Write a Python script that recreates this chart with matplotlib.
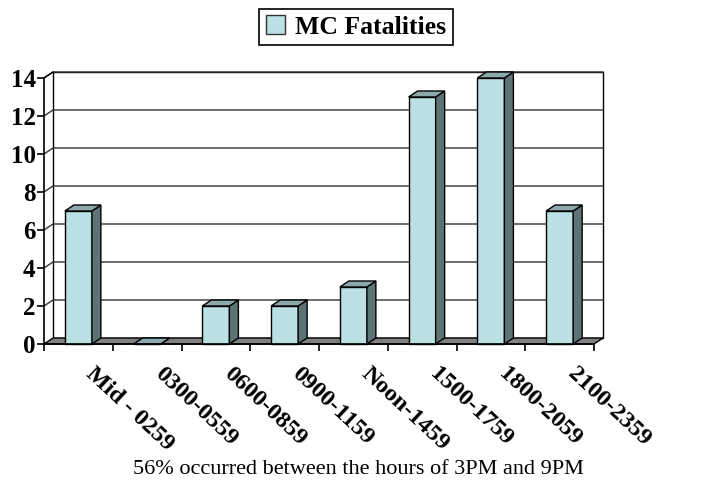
#!/usr/bin/env python3
"""MC fatalities by time of day, Excel-style 3D column chart."""
import matplotlib
matplotlib.use("Agg")
import matplotlib.pyplot as plt
from matplotlib.patches import Patch, Polygon

categories = ["Mid - 0259", "0300-0559", "0600-0859", "0900-1159",
              "Noon-1459", "1500-1759", "1800-2059", "2100-2359"]
fatalities = [7, 0, 2, 2, 3, 13, 14, 7]
y_ticks = [0, 2, 4, 6, 8, 10, 12, 14]
series_name = "MC Fatalities"
caption = "56% occurred between the hours of 3PM and 9PM"

FRONT = "#BBE0E3"
TOP = "#8CA8AA"
SIDE = "#5E7374"
FLOOR = "#808080"
SERIF = "Liberation Serif"

W, H = 717, 491
fig = plt.figure(figsize=(W / 100, H / 100), dpi=100)
# front plane: x 44..594 px, y 344..78 px
ax = fig.add_axes([44 / W, (H - 344) / H, 550 / W, 266 / H])
n = len(categories)
ax.set_xlim(0, n)
ax.set_ylim(0, 14)

# depth offset in data units (9 px right, 6 px up)
dx = 9 / (550 / n)
dy = 6 / (266 / 14)

kw = dict(clip_on=False, lw=1.0)
# back wall
ax.add_patch(Polygon([(dx, dy), (n + dx, dy), (n + dx, 14 + dy), (dx, 14 + dy)],
                     closed=True, fc="white", ec="black", zorder=1, **kw))
# gridlines on side wall + back wall
for v in y_ticks[1:]:
    ax.plot([0, dx, n + dx], [v, v + dy, v + dy], color="#333333", lw=1.0,
            clip_on=False, zorder=2)
ax.plot([0, dx], [14, 14 + dy], color="black", lw=1.0, clip_on=False, zorder=2)
# floor
ax.add_patch(Polygon([(0, 0), (n, 0), (n + dx, dy), (dx, dy)],
                     closed=True, fc=FLOOR, ec="black", zorder=3, **kw))

width = 0.393
xs = [i + 0.5 for i in range(n)]
bars = ax.bar(xs, fatalities, width=width, color=FRONT, edgecolor="black",
              linewidth=1.0, zorder=5, clip_on=False)
for rect, v in zip(bars, fatalities):
    x0 = rect.get_x()
    x1 = x0 + rect.get_width()
    ax.add_patch(Polygon([(x1, 0), (x1 + dx, dy), (x1 + dx, v + dy), (x1, v)],
                         closed=True, fc=SIDE, ec="black", zorder=5, **kw))
    ax.add_patch(Polygon([(x0, v), (x1, v), (x1 + dx, v + dy), (x0 + dx, v + dy)],
                         closed=True, fc=TOP, ec="black", zorder=5, **kw))

for s in ["top", "right"]:
    ax.spines[s].set_visible(False)
for s in ["left", "bottom"]:
    ax.spines[s].set_linewidth(1.2)
    ax.spines[s].set_zorder(6)
ax.patch.set_visible(False)

ax.set_yticks(y_ticks)
ax.set_yticklabels([str(t) for t in y_ticks], fontfamily=SERIF,
                   fontweight="bold", fontsize=18)
ax.tick_params(axis="y", direction="out", length=5, width=1.2, pad=1)

ax.set_xticks(range(n + 1))
ax.set_xticklabels([])
ax.tick_params(axis="x", which="major", direction="out", length=5, width=1.2)
# label anchors sit a bit right of the category centres
ax.set_xticks([x + 0.26 for x in xs], minor=True)
ax.set_xticklabels(categories, minor=True, fontfamily=SERIF, fontweight="bold",
                   fontsize=17.5, rotation=-43, ha="left", va="top",
                   rotation_mode="anchor")
ax.tick_params(axis="x", which="minor", length=0, pad=14)

fig.legend(handles=[Patch(facecolor=FRONT, edgecolor="#333333", lw=1.0)],
           labels=[series_name], loc="center",
           bbox_to_anchor=(356 / W, 1 - 27 / H),
           prop=dict(family=SERIF, weight="bold", size=18.5),
           frameon=True, fancybox=False, edgecolor="black", framealpha=1,
           handlelength=0.75, handleheight=0.75, handletextpad=0.4,
           borderpad=0.25, borderaxespad=0)
fig.legends[0].get_frame().set_linewidth(1.2)

fig.text(0.5, (H - 469) / H, caption, ha="center", va="center",
         fontfamily=SERIF, fontsize=16)

fig.savefig("out.png", dpi=100)
